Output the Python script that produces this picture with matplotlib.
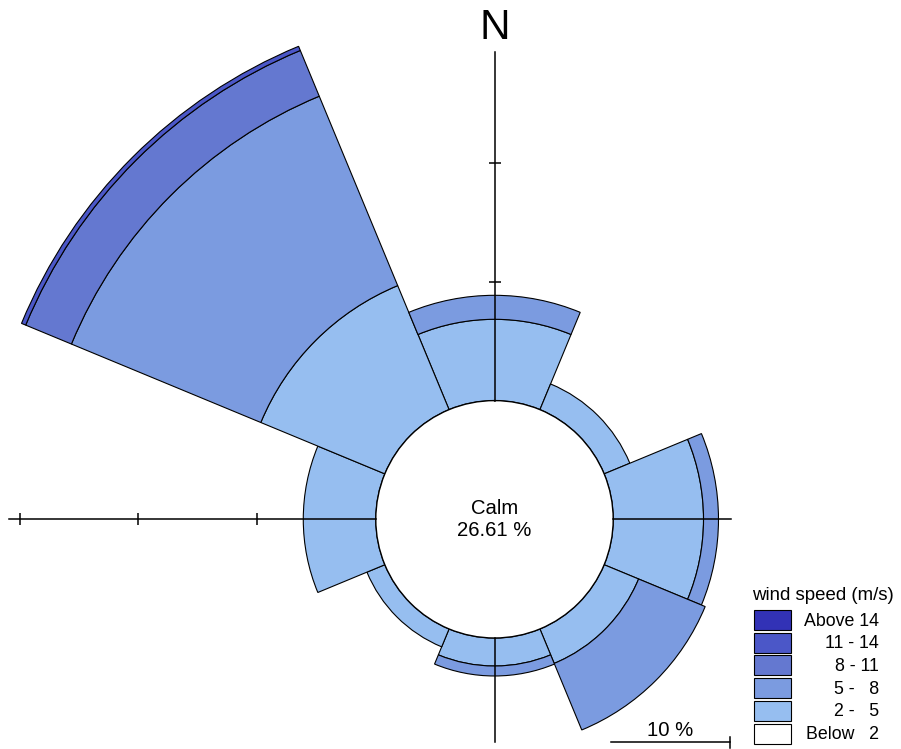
import numpy as np
import matplotlib
matplotlib.use("Agg")
import matplotlib.pyplot as plt
from matplotlib.patches import Rectangle
from matplotlib.lines import Line2D

plt.rcParams['font.family'] = ['Liberation Sans', 'DejaVu Sans']

# ---- data (percent of time) ----
directions = ['N', 'NE', 'E', 'SE', 'S', 'SW', 'W', 'NW']
below_2 = [0, 0, 0, 0, 0, 0, 0, 0]
spd_2_5 = [6.85, 2.34, 7.61, 3.14, 2.36, 1.63, 6.11, 11.31]
spd_5_8 = [2.02, 0.0, 1.26, 6.07, 0.84, 0.0, 0.0, 17.27]
spd_8_11 = [0, 0, 0, 0, 0, 0, 0, 4.17]
spd_11_14 = [0, 0, 0, 0, 0, 0, 0, 0.38]
above_14 = [0, 0, 0, 0, 0, 0, 0, 0]
calm_pct = 26.61

speed_labels = ['Above 14', '11 - 14', '8 - 11', '5 -   8', '2 -   5', 'Below   2']
colors = ['#3232B6', '#4B57C8', '#6478D0', '#7B9BE0', '#96BEF0', '#FFFFFF']

# ---- figure / layout ----
W, H = 901, 749
DPI = 100
fig = plt.figure(figsize=(W / DPI, H / DPI), dpi=DPI)

cx, cy = 494.5, 519.3          # centre (image px, y down)
px_per_pct = 11.87
r_origin = 10.0                # calm circle radius in % units
r_max = 40.0
half = (r_max + r_origin) * px_per_pct
ax = fig.add_axes([(cx - half) / W, (H - cy - half) / H, 2 * half / W, 2 * half / H],
                  projection='polar')
ax.set_theta_zero_location('N')
ax.set_theta_direction(-1)
ax.set_rorigin(-r_origin)
ax.set_ylim(0, r_max)
ax.patch.set_visible(False)
ax.grid(False)
ax.set_xticks([])
ax.set_yticks([])
ax.spines['polar'].set_visible(False)
ax.spines['inner'].set_visible(True)
ax.spines['inner'].set_linewidth(1.0)
ax.spines['inner'].set_color('black')

theta = np.deg2rad(np.arange(8) * 45.0)
width = np.deg2rad(45.0)

stack = [below_2, spd_2_5, spd_5_8, spd_8_11, spd_11_14, above_14]
stack_colors = colors[::-1]
bottom = np.zeros(8)
for vals, col in zip(stack, stack_colors):
    v = np.array(vals, dtype=float)
    mask = v > 0
    if mask.any():
        ax.bar(theta[mask], v[mask], width=width, bottom=bottom[mask], color=col,
               edgecolor='black', linewidth=0.8, align='center', zorder=2)
    bottom += v

# axis cross lines (N, E, S, W) with ticks every 10 %
axis_len = {'N': 29.4, 'E': 9.9, 'S': 8.75, 'W': 30.9}
axis_ang = {'N': 0.0, 'E': 90.0, 'S': 180.0, 'W': 270.0}
for k in axis_len:
    a = np.deg2rad(axis_ang[k])
    ax.plot([a, a], [0, axis_len[k]], color='black', lw=1.1, zorder=3, clip_on=False)
    ticks = np.arange(10, axis_len[k] + 0.01, 10)
    if len(ticks):
        marker = '_' if k in ('N', 'S') else '|'
        ax.plot(np.full(len(ticks), a), ticks, linestyle='none', marker=marker,
                markersize=9, markeredgewidth=1.1, color='black', zorder=3, clip_on=False)

# texts
fig.text(494.5 / W, 1 - 28 / H, 'N', ha='center', va='center', fontsize=30.5)
fig.text(cx / W, 1 - 509 / H, 'Calm', ha='center', va='center', fontsize=14.6)
fig.text(cx / W, 1 - 530 / H, f'{calm_pct:.2f} %', ha='center', va='center', fontsize=14.6)

# scale bar (10 %)
x0 = 611.0
x1 = x0 + 10 * px_per_pct
yb = 1 - 742 / H
fig.add_artist(Line2D([x0 / W, x1 / W], [yb, yb], color='black', lw=1.1))
fig.add_artist(Line2D([x1 / W, x1 / W], [1 - 737 / H, 1 - 748 / H], color='black', lw=1.1))
fig.text((x0 + x1) / 2 / W, 1 - 731 / H, '10 %', ha='center', va='center', fontsize=14.6)

# legend
fig.text(752.5 / W, 1 - 595 / H, 'wind speed (m/s)', ha='left', va='center', fontsize=13.4)
for i, (lab, col) in enumerate(zip(speed_labels, colors)):
    top = 610 + i * 22.7
    fig.add_artist(Rectangle((753.5 / W, 1 - (top + 20) / H), 37.5 / W, 20 / H,
                             facecolor=col, edgecolor='black', linewidth=0.8))
    fig.text(879 / W, 1 - (top + 11) / H, lab, ha='right', va='center', fontsize=12.8)

fig.savefig('out.png', dpi=DPI)
